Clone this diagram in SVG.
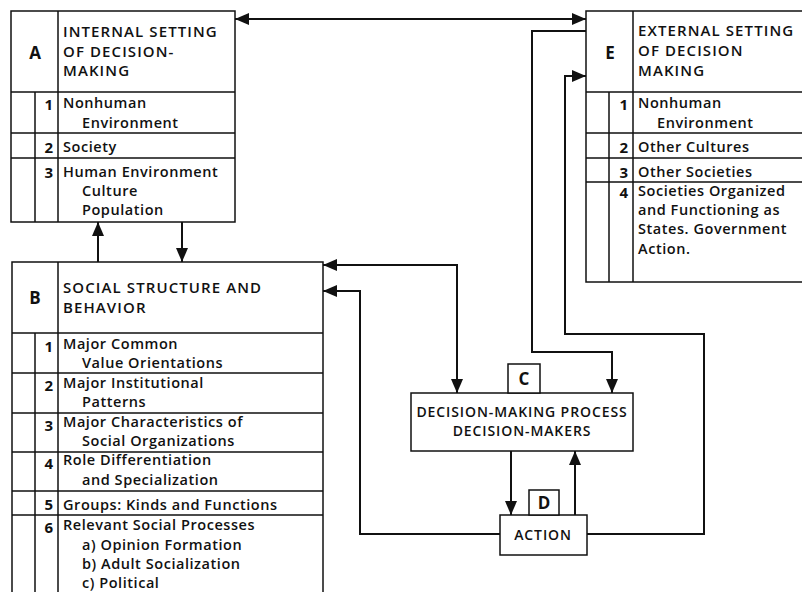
<svg xmlns="http://www.w3.org/2000/svg" width="802" height="592" viewBox="0 0 802 592">
<style>
text{font-family:"Open Sans","Liberation Sans",sans-serif;font-weight:600;fill:#111;font-size:14.5px;letter-spacing:0.55px}
.box{fill:#fff;stroke:#111;stroke-width:1.5}
.ln{stroke:#111;stroke-width:1.5;fill:none}
.cap{font-size:15px;letter-spacing:1.1px}
.cc{font-size:14px;letter-spacing:0.9px;text-anchor:middle}
.let{font-size:17px;font-weight:700;text-anchor:middle;letter-spacing:0}
.num{font-size:15px;font-weight:700;text-anchor:end;letter-spacing:0}
.con{stroke:#111;stroke-width:2;fill:none}
</style>
<defs>
<marker id="ah" viewBox="0 0 14 12" refX="14" refY="6" markerWidth="14" markerHeight="12" markerUnits="userSpaceOnUse" orient="auto-start-reverse">
<path d="M0,0 L14,6 L0,12 z" fill="#111"/>
</marker>
</defs>
<rect width="802" height="592" fill="#fff"/>

<g id="nodeA">
<rect class="box" x="11" y="11" width="224" height="211"/>
<path class="ln" d="M58,11 V222 M35,92 V222 M11,92 H235 M11,133 H235 M11,158 H235"/>
<text class="let" x="35" y="59">A</text>
<text class="cap" x="63" y="37">INTERNAL SETTING</text>
<text class="cap" x="63" y="57">OF DECISION-</text>
<text class="cap" x="63" y="76">MAKING</text>
<text class="num" x="53" y="110">1</text>
<text x="63" y="108">Nonhuman</text>
<text x="82" y="128">Environment</text>
<text class="num" x="53" y="153">2</text>
<text x="63" y="152">Society</text>
<text class="num" x="53" y="178">3</text>
<text x="63" y="177">Human Environment</text>
<text x="82" y="196">Culture</text>
<text x="82" y="215">Population</text>
</g>

<g id="nodeE">
<rect class="box" x="586" y="11" width="220" height="271"/>
<path class="ln" d="M633,11 V282 M609,92 V282 M586,92 H802 M586,133 H802 M586,158 H802 M586,182 H802"/>
<text class="let" x="610" y="59">E</text>
<text class="cap" x="638" y="36">EXTERNAL SETTING</text>
<text class="cap" x="638" y="56">OF DECISION</text>
<text class="cap" x="638" y="76">MAKING</text>
<text class="num" x="628" y="110">1</text>
<text x="638" y="108">Nonhuman</text>
<text x="657" y="128">Environment</text>
<text class="num" x="628" y="153">2</text>
<text x="638" y="152">Other Cultures</text>
<text class="num" x="628" y="178">3</text>
<text x="638" y="177">Other Societies</text>
<text class="num" x="628" y="198">4</text>
<text x="638" y="196">Societies Organized</text>
<text x="638" y="215">and Functioning as</text>
<text x="638" y="234">States. Government</text>
<text x="638" y="254">Action.</text>
</g>

<g id="nodeB">
<rect class="box" x="12" y="262" width="311" height="340"/>
<path class="ln" d="M58,262 V600 M35,333 V600 M12,333 H323 M12,373 H323 M12,413 H323 M12,452 H323 M12,491 H323 M12,515 H323"/>
<text class="let" x="35" y="304">B</text>
<text class="cap" x="63" y="293">SOCIAL STRUCTURE AND</text>
<text class="cap" x="63" y="313">BEHAVIOR</text>
<text class="num" x="53" y="352">1</text>
<text x="63" y="349">Major Common</text>
<text x="82" y="368">Value Orientations</text>
<text class="num" x="53" y="391">2</text>
<text x="63" y="388">Major Institutional</text>
<text x="82" y="407">Patterns</text>
<text class="num" x="53" y="431">3</text>
<text x="63" y="427">Major Characteristics of</text>
<text x="82" y="446">Social Organizations</text>
<text class="num" x="53" y="469">4</text>
<text x="63" y="465">Role Differentiation</text>
<text x="82" y="485">and Specialization</text>
<text class="num" x="53" y="510">5</text>
<text x="63" y="510">Groups: Kinds and Functions</text>
<text class="num" x="53" y="533">6</text>
<text x="63" y="530">Relevant Social Processes</text>
<text x="82" y="550">a) Opinion Formation</text>
<text x="82" y="569">b) Adult Socialization</text>
<text x="82" y="588">c) Political</text>
</g>

<g id="nodeC">
<rect class="box" x="411" y="393" width="222" height="58"/>
<rect class="box" x="508" y="364" width="32" height="29"/>
<text class="let" x="524" y="385">C</text>
<text class="cc" x="522" y="417">DECISION-MAKING PROCESS</text>
<text class="cc" x="522" y="436">DECISION-MAKERS</text>
</g>

<g id="nodeD">
<rect class="box" x="500" y="515" width="87" height="40"/>
<rect class="box" x="529" y="490" width="30" height="25"/>
<text class="let" x="544" y="509">D</text>
<text class="cc" x="543" y="540">ACTION</text>
</g>

<g id="connectors">
<path class="con" d="M235,19 H586" marker-start="url(#ah)" marker-end="url(#ah)"/>
<path class="con" d="M586,31 H532 V352 H612 V393" marker-end="url(#ah)"/>
<path class="con" d="M587,534 H704 V334 H565 V76 H586" marker-end="url(#ah)"/>
<path class="con" d="M323,265 H457 V393" marker-start="url(#ah)" marker-end="url(#ah)"/>
<path class="con" d="M500,534 H360 V291 H323" marker-end="url(#ah)"/>
<path class="con" d="M511,451 V515" marker-end="url(#ah)"/>
<path class="con" d="M575,515 V451" marker-end="url(#ah)"/>
<path class="con" d="M98,262 V222" marker-end="url(#ah)"/>
<path class="con" d="M182,222 V262" marker-end="url(#ah)"/>
</g>
</svg>
